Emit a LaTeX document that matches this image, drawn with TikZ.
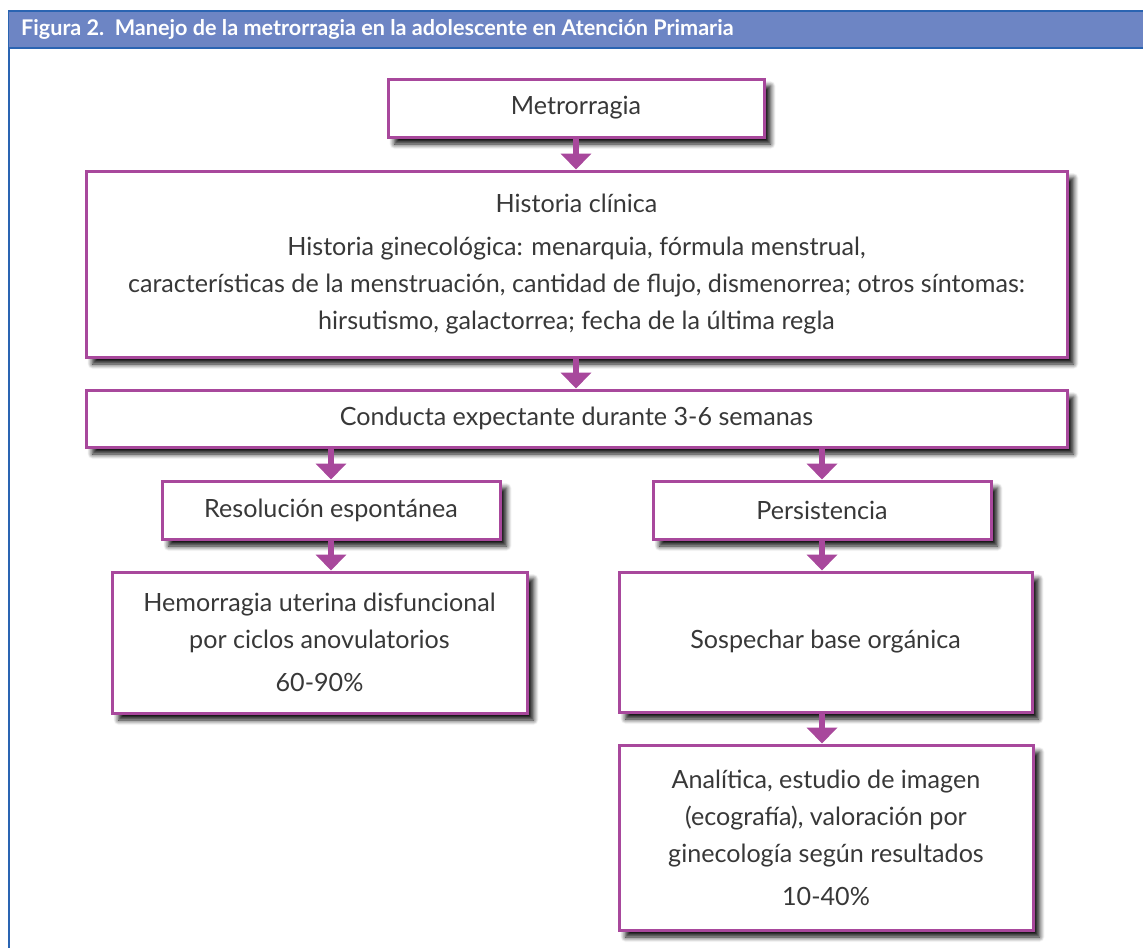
\documentclass[tikz,border=0pt]{standalone}
\usepackage{fontspec}
\setmainfont{Lato}
\usetikzlibrary{arrows.meta,shadows.blur}

\definecolor{lila}{HTML}{A8489C}
\definecolor{cabecera}{HTML}{6D85C4}
\definecolor{azul}{HTML}{2A64B2}
\definecolor{texto}{HTML}{383838}

\tikzset{
  caja/.style={draw=lila, line width=0.06cm, fill=white, text=texto, align=center, inner sep=0pt,
    blur shadow={shadow xshift=0.13cm, shadow yshift=-0.14cm, shadow blur steps=8,
                 shadow blur radius=0.1cm, shadow opacity=95},
    font=\fontsize{14.3}{21}\selectfont},
  tam/.style 2 args={minimum width=#1*0.02cm, minimum height=#2*0.02cm},
  flecha/.style={lila, line width=0.12cm, -{Triangle[width=0.6cm, length=0.32cm]}},
}

\begin{document}
\begin{tikzpicture}[x=0.02cm, y=-0.02cm]

 \useasboundingbox (0,0) rectangle (1143,947);
 \clip (0,0) rectangle (1143,947);

 %marco y cabecera
 \draw[azul, line width=0.04cm] (9.3,10.7) rectangle (1180,990);
 \fill[cabecera] (9.3,10.7) rectangle (1180,47.8);
 \draw[azul, line width=0.04cm] (9.3,10.7) -- (1180,10.7);
 \draw[azul, line width=0.04cm] (9.3,47.8) -- (1180,47.8);
 \node[anchor=west, white, font=\fontsize{12.3}{14}\selectfont\bfseries] (titulo) at (15,29.3)
   {Figura 2.\ \ Manejo de la metrorragia en la adolescente en Atención Primaria};

 %nivel 1
 \node[caja, tam={376}{58}] (met) at (576,108) {Metrorragia};
 \node[caja, tam={981}{186}] (hist) at (576.5,264)
   {Historia clínica\\[0.12cm]
    Historia ginecológica: menarquia, fórmula menstrual,\\
    características de la menstruación, cantidad de flujo, dismenorrea; otros síntomas:\\
    hirsutismo, galactorrea; fecha de la última regla};
 \node[caja, tam={981}{57}] (cond) at (576.5,418.5) {Conducta expectante durante 3-6 semanas};

 %nivel 2
 \node[caja, tam={338}{58}] (reso) at (331,510) {Resolución espontánea};
 \node[caja, tam={338}{58}] (pers) at (822,510) {Persistencia};

 \node[caja, tam={415}{141}] (hemo) at (319.5,642.5)
   {Hemorragia uterina disfuncional\\por ciclos anovulatorios\\[0.12cm]60-90\%};
 \node[caja, tam={413}{140}] (sosp) at (825.5,642) {Sospechar base orgánica};
 \node[caja, tam={414}{185}] (anal) at (826,837.5)
   {Analítica, estudio de imagen\\(ecografía), valoración por\\ginecología según resultados\\[0.12cm]10-40\%};

 %flechas
 \foreach \a/\b/\c in {met/hist/met, hist/cond/met, cond/reso/reso, cond/pers/pers,
                       reso/hemo/reso, pers/sosp/pers, sosp/anal/pers} {
   \draw[flecha] (\a.south -| \c) -- (\b.north -| \c);
 }

\end{tikzpicture}
\end{document}
